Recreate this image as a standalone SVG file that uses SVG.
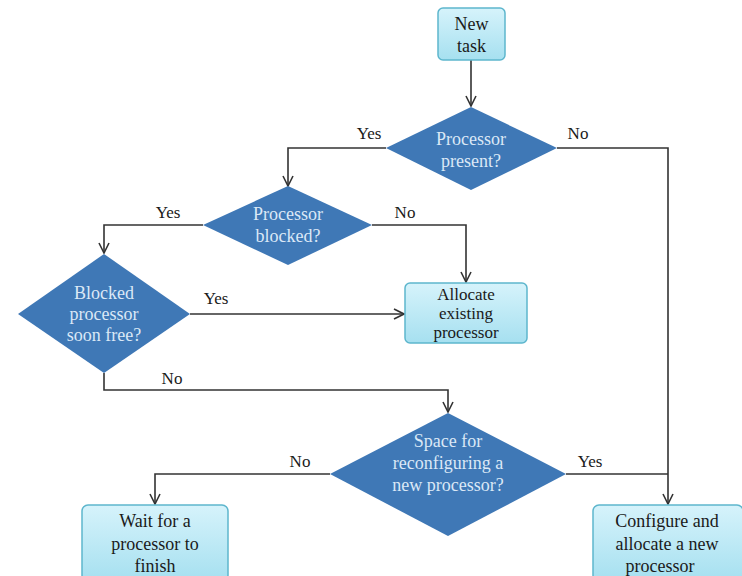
<svg xmlns="http://www.w3.org/2000/svg" width="742" height="576" viewBox="0 0 742 576">
<defs>
<linearGradient id="bg" x1="0" y1="0" x2="0" y2="1">
<stop offset="0" stop-color="#d6f3fb"/>
<stop offset="1" stop-color="#a6e0f0"/>
</linearGradient>
<marker id="ar" viewBox="0 0 12 12" refX="11" refY="6" markerWidth="12" markerHeight="12" markerUnits="userSpaceOnUse" orient="auto">
<path d="M1,1 L11,6 L1,11" fill="none" stroke="#333" stroke-width="1.6"/>
</marker>
<style>
.box{fill:url(#bg);stroke:#5db6cd;stroke-width:1.5}
.dia{fill:#3f78b6;stroke:none}
.bt{font-family:"Liberation Serif",serif;font-size:18px;fill:#1a1a1a;text-anchor:middle}
.bs{font-family:"Liberation Serif",serif;font-size:17px;fill:#1a1a1a;text-anchor:middle}
.dt{font-family:"Liberation Serif",serif;font-size:18px;fill:#dbe8f6;text-anchor:middle}
.lb{font-family:"Liberation Serif",serif;font-size:17px;fill:#1a1a1a;text-anchor:middle}
.ln{fill:none;stroke:#333;stroke-width:1.6}
</style>
</defs>
<rect width="742" height="576" fill="#ffffff"/>
<g id="connectors">
<path class="ln" d="M471,60 L471,106" marker-end="url(#ar)"/>
<path class="ln" d="M386,148 L288,148 L288,186" marker-end="url(#ar)"/>
<path class="ln" d="M557,148 L668,148 L668,504" marker-end="url(#ar)"/>
<path class="ln" d="M203,225 L104,225 L104,253" marker-end="url(#ar)"/>
<path class="ln" d="M372,225 L466,225 L466,282" marker-end="url(#ar)"/>
<path class="ln" d="M190,314 L404,314" marker-end="url(#ar)"/>
<path class="ln" d="M104,373 L104,390 L448,390 L448,412" marker-end="url(#ar)"/>
<path class="ln" d="M330,474 L155,474 L155,504" marker-end="url(#ar)"/>
<path class="ln" d="M566,474 L668,474"/>
<text class="lb" x="369" y="139">Yes</text>
<text class="lb" x="578" y="139">No</text>
<text class="lb" x="168" y="218">Yes</text>
<text class="lb" x="405" y="218">No</text>
<text class="lb" x="216" y="304">Yes</text>
<text class="lb" x="172" y="384">No</text>
<text class="lb" x="300" y="467">No</text>
<text class="lb" x="590" y="467">Yes</text>
</g>
<g id="new-task">
<rect class="box" x="438" y="8" width="67" height="52" rx="5"/>
<text class="bt" x="471.5" y="30">New</text>
<text class="bt" x="471.5" y="52">task</text>
</g>
<g id="processor-present">
<polygon class="dia" points="471,107 557,148 471,190 386,148"/>
<text class="dt" x="471" y="145">Processor</text>
<text class="dt" x="471" y="167">present?</text>
</g>
<g id="processor-blocked">
<polygon class="dia" points="288,186 372,225 288,265 203,225"/>
<text class="dt" x="288" y="220">Processor</text>
<text class="dt" x="288" y="242">blocked?</text>
</g>
<g id="blocked-soon-free">
<polygon class="dia" points="104,254 190,314 104,373 18,314"/>
<text class="dt" x="104" y="299">Blocked</text>
<text class="dt" x="104" y="320">processor</text>
<text class="dt" x="104" y="341">soon free?</text>
</g>
<g id="allocate-existing">
<rect class="box" x="405" y="283" width="122" height="60" rx="5"/>
<text class="bs" x="466" y="300">Allocate</text>
<text class="bs" x="466" y="319">existing</text>
<text class="bs" x="466" y="338">processor</text>
</g>
<g id="space-reconfiguring">
<polygon class="dia" points="448,413 566,474 448,536 330,474"/>
<text class="dt" x="448" y="447">Space for</text>
<text class="dt" x="448" y="469">reconfiguring a</text>
<text class="dt" x="448" y="491">new processor?</text>
</g>
<g id="wait">
<rect class="box" x="82" y="505" width="146" height="76" rx="6"/>
<text class="bt" x="155" y="527">Wait for a</text>
<text class="bt" x="155" y="550">processor to</text>
<text class="bt" x="155" y="572">finish</text>
</g>
<g id="configure">
<rect class="box" x="593" y="505" width="150" height="76" rx="6"/>
<text class="bt" x="667" y="527">Configure and</text>
<text class="bt" x="667" y="550">allocate a new</text>
<text class="bt" x="660" y="572">processor</text>
</g>
</svg>
